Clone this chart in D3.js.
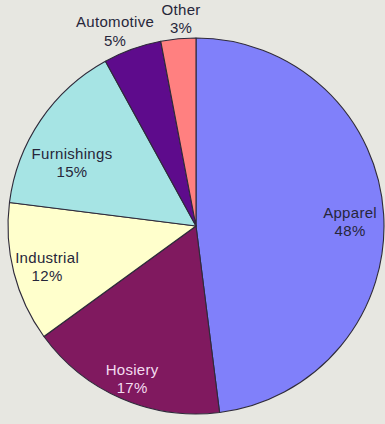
<!DOCTYPE html>
<html>
<head>
<meta charset="utf-8">
<script src="https://cdn.jsdelivr.net/npm/d3@7"></script>
<style>
  html, body { margin: 0; padding: 0; background: #e7e7e1; }
  svg { display: block; }
</style>
</head>
<body>
<svg id="chart" width="385" height="424"></svg>
<script>
// Market share by end use (percent), clockwise from twelve o'clock
const categories = ["Apparel", "Hosiery", "Industrial", "Furnishings", "Automotive", "Other"];
const shares = [48, 17, 12, 15, 5, 3];
const colors = ["#8080fa", "#80195f", "#ffffcc", "#a6e4e4", "#5e0b8c", "#ff8080"];

const width = 385, height = 424;
const cx = 196, cy = 226, R = 188;

const svg = d3.select("#chart");
const g = svg.append("g").attr("transform", `translate(${cx},${cy})`);

const pie = d3.pie().sort(null).value(d => d.value);
const arcs = pie(categories.map((c, i) => ({ name: c, value: shares[i], color: colors[i] })));

const arc = d3.arc().innerRadius(0).outerRadius(R);

g.selectAll("path.slice")
  .data(arcs)
  .join("path")
  .attr("class", "slice")
  .attr("d", arc)
  .attr("fill", d => d.data.color)
  .attr("stroke", "#2e2a3a")
  .attr("stroke-width", 1.1)
  .attr("stroke-linejoin", "round");

// Label placement: radius as a fraction of R and a small angular nudge (degrees)
// from the slice's mid-angle; the two thin slices are labelled outside the rim.
const labelPlace = {
  Apparel:     { r: 0.82,  da: 1.7 },
  Hosiery:     { r: 0.877, da: -0.6 },
  Industrial:  { r: 0.82,  da: -0.6 },
  Furnishings: { r: 0.742, da: -6.9 },
  Automotive:  { r: 1.125, da: -2.7 },
  Other:       { r: 1.107, da: 1.3 }
};
const labelColor = d => d.data.name === "Hosiery" ? "#f3dcef" : "#26263a";

const labels = g.selectAll("text.lbl")
  .data(arcs)
  .join("text")
  .attr("class", "lbl")
  .attr("font-family", "'Liberation Sans', Arial, sans-serif")
  .attr("font-size", 15)
  .attr("letter-spacing", 0.3)
  .attr("text-anchor", "middle")
  .attr("fill", labelColor)
  .attr("transform", d => {
    const p = labelPlace[d.data.name];
    const r = R * p.r;
    const a = (d.startAngle + d.endAngle) / 2 + p.da * Math.PI / 180;
    return `translate(${r * Math.sin(a)},${-r * Math.cos(a)})`;
  });

labels.append("tspan")
  .attr("x", 0)
  .attr("dy", "-0.22em")
  .text(d => d.data.name);
labels.append("tspan")
  .attr("x", 0)
  .attr("dy", "1.22em")
  .text(d => d.data.value + "%");
</script>
</body>
</html>
